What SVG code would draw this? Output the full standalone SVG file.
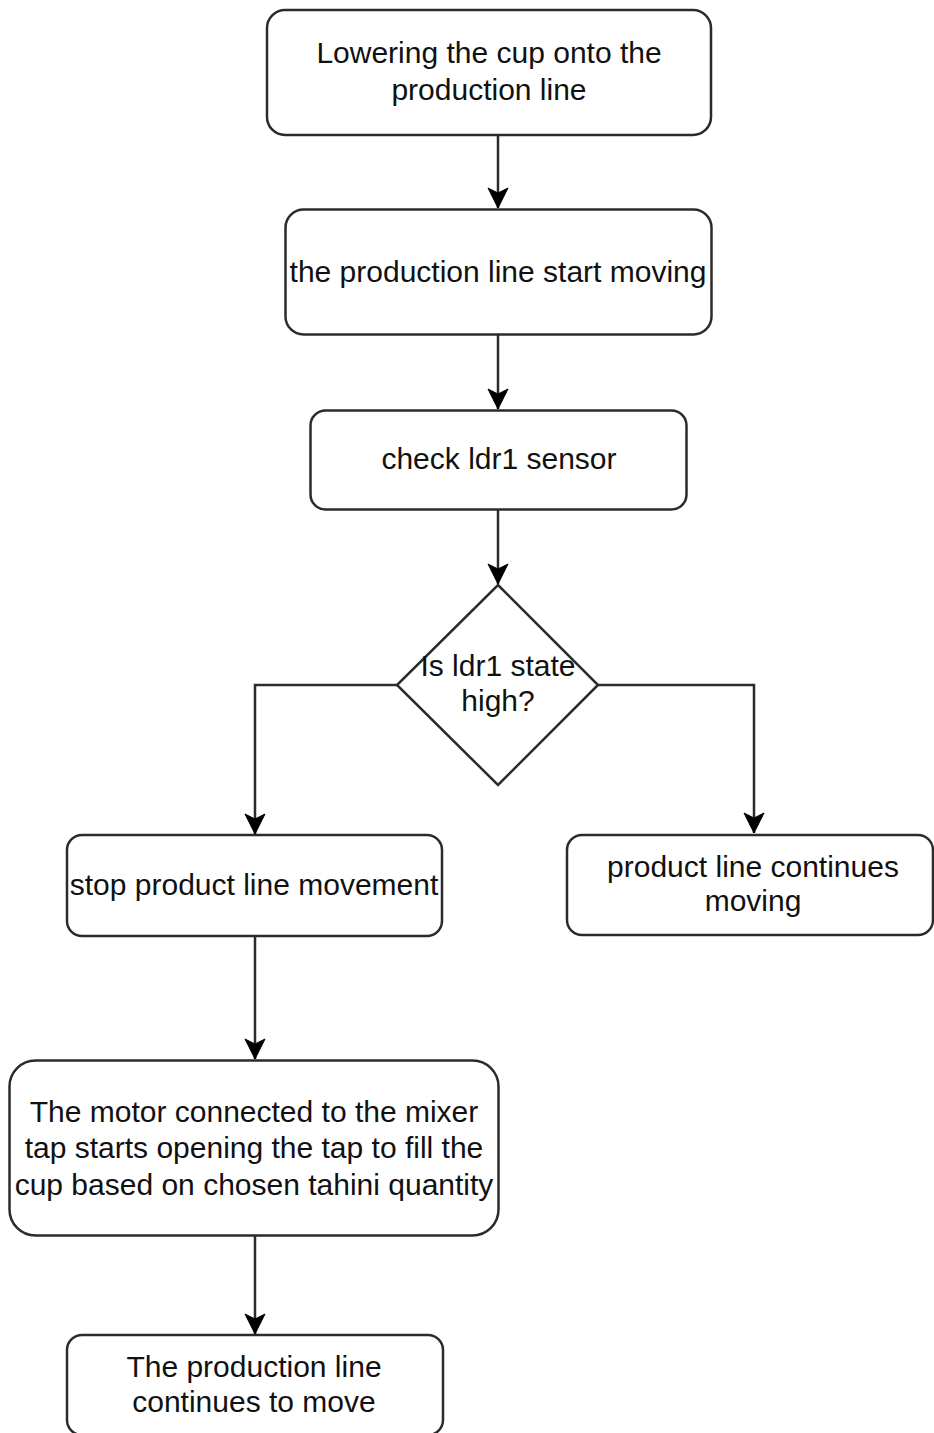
<svg xmlns="http://www.w3.org/2000/svg" width="934" height="1433" viewBox="0 0 934 1433">
<style>
.box{fill:#fff;stroke:#2b2b2b;stroke-width:2.5}
.t{font-family:"Liberation Sans",Arial,sans-serif;font-size:30px;fill:#111;text-anchor:middle}
.c{fill:none;stroke:#2b2b2b;stroke-width:2.5}
</style>
<defs>
<marker id="arr" markerUnits="userSpaceOnUse" markerWidth="24" markerHeight="24" viewBox="-22 -11 24 22" refX="0" refY="0" orient="auto" overflow="visible">
<path d="M0,0 L-20,-10 L-15,0 L-20,10 Z" fill="#000" stroke="#000" stroke-width="1"/>
</marker>
</defs>
<rect width="934" height="1433" fill="#fff"/>
<g id="connectors">
<path class="c" d="M498,135 V208" marker-end="url(#arr)"/>
<path class="c" d="M498,335 V409" marker-end="url(#arr)"/>
<path class="c" d="M498,510 V584" marker-end="url(#arr)"/>
<path class="c" d="M397,685 H255 V834" marker-end="url(#arr)"/>
<path class="c" d="M598,685 H754 V833" marker-end="url(#arr)"/>
<path class="c" d="M255,936 V1059" marker-end="url(#arr)"/>
<path class="c" d="M255,1236 V1334" marker-end="url(#arr)"/>
</g>
<g id="n1">
<rect class="box" x="267" y="10" width="444" height="125" rx="18"/>
<text class="t" x="489" y="63">Lowering the cup onto the</text>
<text class="t" x="489" y="100">production line</text>
</g>
<g id="n2">
<rect class="box" x="285.5" y="209.5" width="426" height="125" rx="18"/>
<text class="t" x="498" y="282">the production line start moving</text>
</g>
<g id="n3">
<rect class="box" x="310.5" y="410.5" width="376" height="99" rx="15"/>
<text class="t" x="499" y="469">check ldr1 sensor</text>
</g>
<g id="n4">
<path class="box" d="M498,585 L598,685 L498,785 L397,685 Z"/>
<text class="t" x="498" y="676">Is ldr1 state</text>
<text class="t" x="498" y="711">high?</text>
</g>
<g id="n5">
<rect class="box" x="67" y="835" width="375" height="101" rx="15"/>
<text class="t" x="254" y="895">stop product line movement</text>
</g>
<g id="n6">
<rect class="box" x="567" y="835" width="366" height="100" rx="15"/>
<text class="t" x="753" y="877">product line continues</text>
<text class="t" x="753" y="911">moving</text>
</g>
<g id="n7">
<rect class="box" x="9.5" y="1060.5" width="489" height="175" rx="26"/>
<text class="t" x="254" y="1122">The motor connected to the mixer</text>
<text class="t" x="254" y="1158">tap starts opening the tap to fill the</text>
<text class="t" x="254" y="1195">cup based on chosen tahini quantity</text>
</g>
<g id="n8">
<rect class="box" x="67" y="1335" width="376" height="100" rx="15"/>
<text class="t" x="254" y="1377">The production line</text>
<text class="t" x="254" y="1412">continues to move</text>
</g>
</svg>
